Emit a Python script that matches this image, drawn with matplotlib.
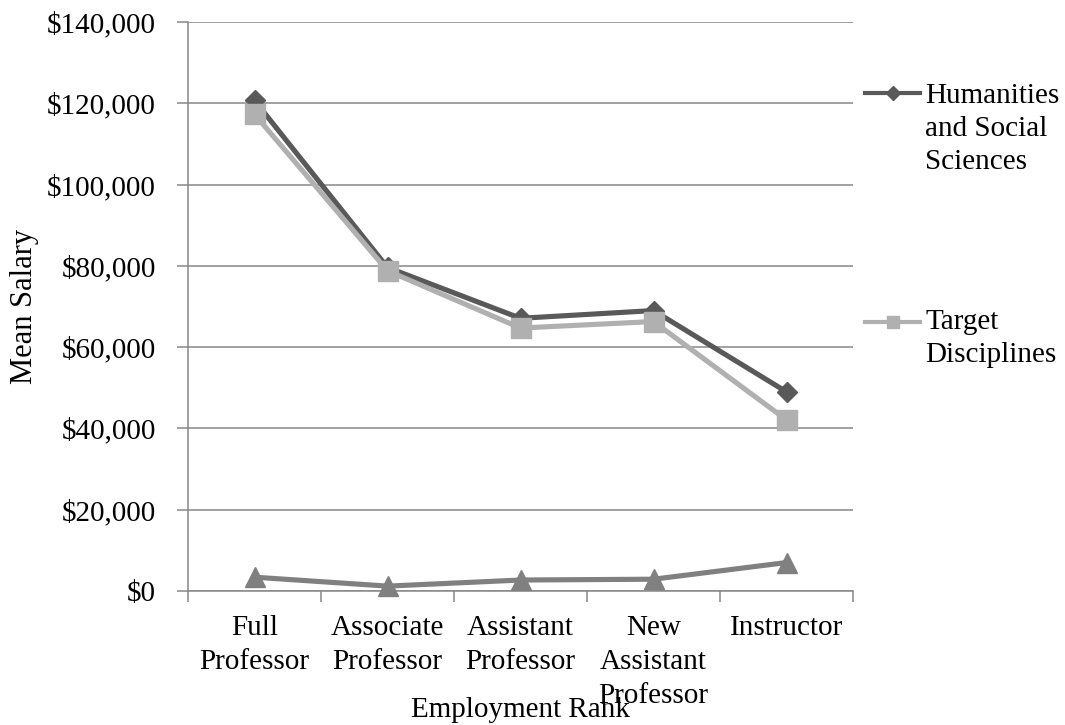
import matplotlib
matplotlib.use("Agg")
import matplotlib.pyplot as plt
from matplotlib.lines import Line2D
from matplotlib.ticker import FuncFormatter, MultipleLocator, FixedLocator

# Mean salary by employment rank
ranks = ["Full\nProfessor", "Associate\nProfessor", "Assistant\nProfessor",
         "New\nAssistant\nProfessor", "Instructor"]
humanities = [120700, 79600, 67100, 69000, 49000]
target = [117300, 78800, 64700, 66300, 42100]
difference = [3400, 1200, 2700, 2900, 7000]

legend_labels = ["Humanities\nand Social\nSciences", "Target\nDisciplines"]

DARK = "#595959"
LIGHT = "#b0b0b0"
MID = "#808080"
GRID = "#878787"

plt.rcParams["font.family"] = ["Liberation Serif", "DejaVu Serif"]
plt.rcParams["font.size"] = 21

W, H = 1065, 725
fig = plt.figure(figsize=(W / 100, H / 100), dpi=100)
ax = fig.add_axes([188 / W, 1 - 591 / H, 665 / W, 569 / H])

x = list(range(len(ranks)))
ax.plot(x, humanities, color=DARK, lw=3.7, marker="D", ms=10.5,
        clip_on=False, zorder=3)
ax.plot(x, target, color=LIGHT, lw=3.7, marker="s", ms=15,
        clip_on=False, zorder=4)
ax.plot(x, difference, color=MID, lw=3.7, marker="^", ms=14.5,
        clip_on=False, zorder=5)

ax.set_xlim(-0.5, len(ranks) - 0.5)
ax.set_ylim(0, 140000)
ax.yaxis.set_major_locator(MultipleLocator(20000))
ax.yaxis.set_major_formatter(FuncFormatter(lambda v, p: f"${v:,.0f}"))
ax.yaxis.grid(True, color=GRID, lw=1.1)
ax.set_axisbelow(True)

ax.set_xticks(x)
ax.set_xticklabels(ranks, linespacing=1.4)
ax.xaxis.set_minor_locator(FixedLocator([i - 0.5 for i in range(len(ranks) + 1)]))
ax.tick_params(axis="x", which="major", length=0, pad=17)
ax.tick_params(axis="x", which="minor", length=8, width=1.1, color=GRID)
ax.tick_params(axis="y", length=8, width=1.1, color=GRID, pad=15)

for side in ("top", "right"):
    ax.spines[side].set_visible(False)
for side in ("left", "bottom"):
    ax.spines[side].set_color(GRID)
    ax.spines[side].set_linewidth(1.1)

ax.set_xlabel("Employment Rank")
ax.xaxis.set_label_coords(0.5, -0.186)
ax.set_ylabel("Mean Salary", fontsize=22)
ax.yaxis.set_label_coords(-0.224, 0.5)

# legend entries stacked down the right side; text placed by last-line baseline
entries = [(93, 169, DARK, "D", 7, legend_labels[0]),
           (322, 362, LIGHT, "s", 8.5, legend_labels[1])]
for y_px, base_px, color, marker, ms, label in entries:
    y = 1 - y_px / H
    fig.add_artist(Line2D([865 / W, 893 / W, 920 / W], [y, y, y],
                          color=color, lw=3, marker=marker, ms=ms,
                          markevery=[1]))
    fig.text(925 / W, 1 - base_px / H, label, ha="left", va="baseline",
             linespacing=1.35)

fig.savefig("out.png", dpi=100)
